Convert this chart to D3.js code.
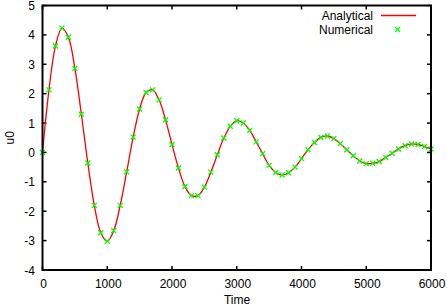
<!DOCTYPE html>
<html>
<head>
<meta charset="utf-8">
<script src="https://cdn.jsdelivr.net/npm/d3@7"></script>
<style>
  body { margin: 0; background: #fff; }
  text { font-family: "Liberation Sans", Arial, sans-serif; font-size: 12px; fill: #000; }
</style>
</head>
<body>
<svg id="chart" width="447" height="308"></svg>
<script>
// sample times (every 100) and values
var times = d3.range(0, 6001, 100);
var u0 = [
  0, 2.13, 3.62, 4.23, 3.92, 2.86, 1.30, -0.36, -1.80, -2.73,
  -3.02, -2.66, -1.80, -0.66, 0.52, 1.48, 2.04, 2.13, 1.79, 1.11,
  0.27, -0.53, -1.16, -1.47, -1.47, -1.18, -0.67, -0.08, 0.49, 0.89,
  1.08, 1.00, 0.75, 0.36, -0.04, -0.44, -0.68, -0.77, -0.69, -0.50,
  -0.21, 0.09, 0.34, 0.51, 0.56, 0.47, 0.30, 0.09, -0.11, -0.29,
  -0.38, -0.37, -0.31, -0.17, -0.03, 0.12, 0.23, 0.29, 0.27, 0.20,
  0.12
];
var xTicks = [0, 1000, 2000, 3000, 4000, 5000, 6000];
var yTicks = [-4, -3, -2, -1, 0, 1, 2, 3, 4, 5];

var points = times.map(function (t, i) {
  return { t: t, u: u0[i] };
});

var svg = d3.select("#chart");
var plotL = 42.5, plotR = 431, plotT = 5.5, plotB = 270;

var x = d3.scaleLinear().domain([0, 6000]).range([plotL, plotR]);
var y = d3.scaleLinear().domain([-4, 5]).range([plotB, plotT]);

// ticks, inward on all four sides
var tickLen = 4;
var ticks = svg.append("g").attr("stroke", "#000").attr("stroke-width", 1.5);
xTicks.forEach(function (v) {
  ticks.append("line").attr("x1", x(v)).attr("x2", x(v)).attr("y1", plotB).attr("y2", plotB - tickLen);
  ticks.append("line").attr("x1", x(v)).attr("x2", x(v)).attr("y1", plotT).attr("y2", plotT + tickLen);
});
yTicks.forEach(function (v) {
  ticks.append("line").attr("x1", plotL).attr("x2", plotL + tickLen).attr("y1", y(v)).attr("y2", y(v));
  ticks.append("line").attr("x1", plotR).attr("x2", plotR - tickLen).attr("y1", y(v)).attr("y2", y(v));
});

// tick labels
svg.append("g")
  .selectAll("text")
  .data(xTicks)
  .enter()
  .append("text")
  .attr("x", function (d) { return x(d) + 1; })
  .attr("y", 287.5)
  .attr("text-anchor", "middle")
  .text(function (d) { return d; });

svg.append("g")
  .selectAll("text")
  .data(yTicks)
  .enter()
  .append("text")
  .attr("x", 35)
  .attr("y", function (d) { return y(d) + 4.5; })
  .attr("text-anchor", "end")
  .text(function (d) { return d; });

// axis titles
svg.append("text").attr("x", 237).attr("y", 304).attr("text-anchor", "middle").text("Time");
svg.append("text")
  .attr("transform", "translate(14," + ((plotT + plotB) / 2) + ") rotate(-90)")
  .attr("text-anchor", "middle")
  .text("u0");

// analytical curve
var line = d3.line()
  .x(function (d) { return x(d.t); })
  .y(function (d) { return y(d.u); })
  .curve(d3.curveCatmullRom);

svg.append("path")
  .datum(points)
  .attr("d", line)
  .attr("fill", "none")
  .attr("stroke", "#ff0000")
  .attr("stroke-width", 1.3);

// numerical points
function cross(g, cx, cy) {
  var s = 2.5;
  g.append("path")
    .attr("d", "M" + (cx - s) + "," + (cy - s) + "L" + (cx + s) + "," + (cy + s) +
      "M" + (cx - s) + "," + (cy + s) + "L" + (cx + s) + "," + (cy - s))
    .attr("stroke", "#00ff00")
    .attr("stroke-width", 1.3);
}
var marks = svg.append("g");
points.forEach(function (d) {
  cross(marks, x(d.t), y(d.u));
});

// legend
svg.append("text").attr("x", 373).attr("y", 20).attr("text-anchor", "end").text("Analytical");
svg.append("line").attr("x1", 381).attr("x2", 416).attr("y1", 15.5).attr("y2", 15.5)
  .attr("stroke", "#ff0000").attr("stroke-width", 1.3);
svg.append("text").attr("x", 373).attr("y", 33.5).attr("text-anchor", "end").text("Numerical");
cross(svg, 397.5, 29.5);

// border
svg.append("rect")
  .attr("x", plotL).attr("y", plotT)
  .attr("width", plotR - plotL).attr("height", plotB - plotT)
  .attr("fill", "none")
  .attr("stroke", "#000")
  .attr("stroke-width", 2);
</script>
</body>
</html>
